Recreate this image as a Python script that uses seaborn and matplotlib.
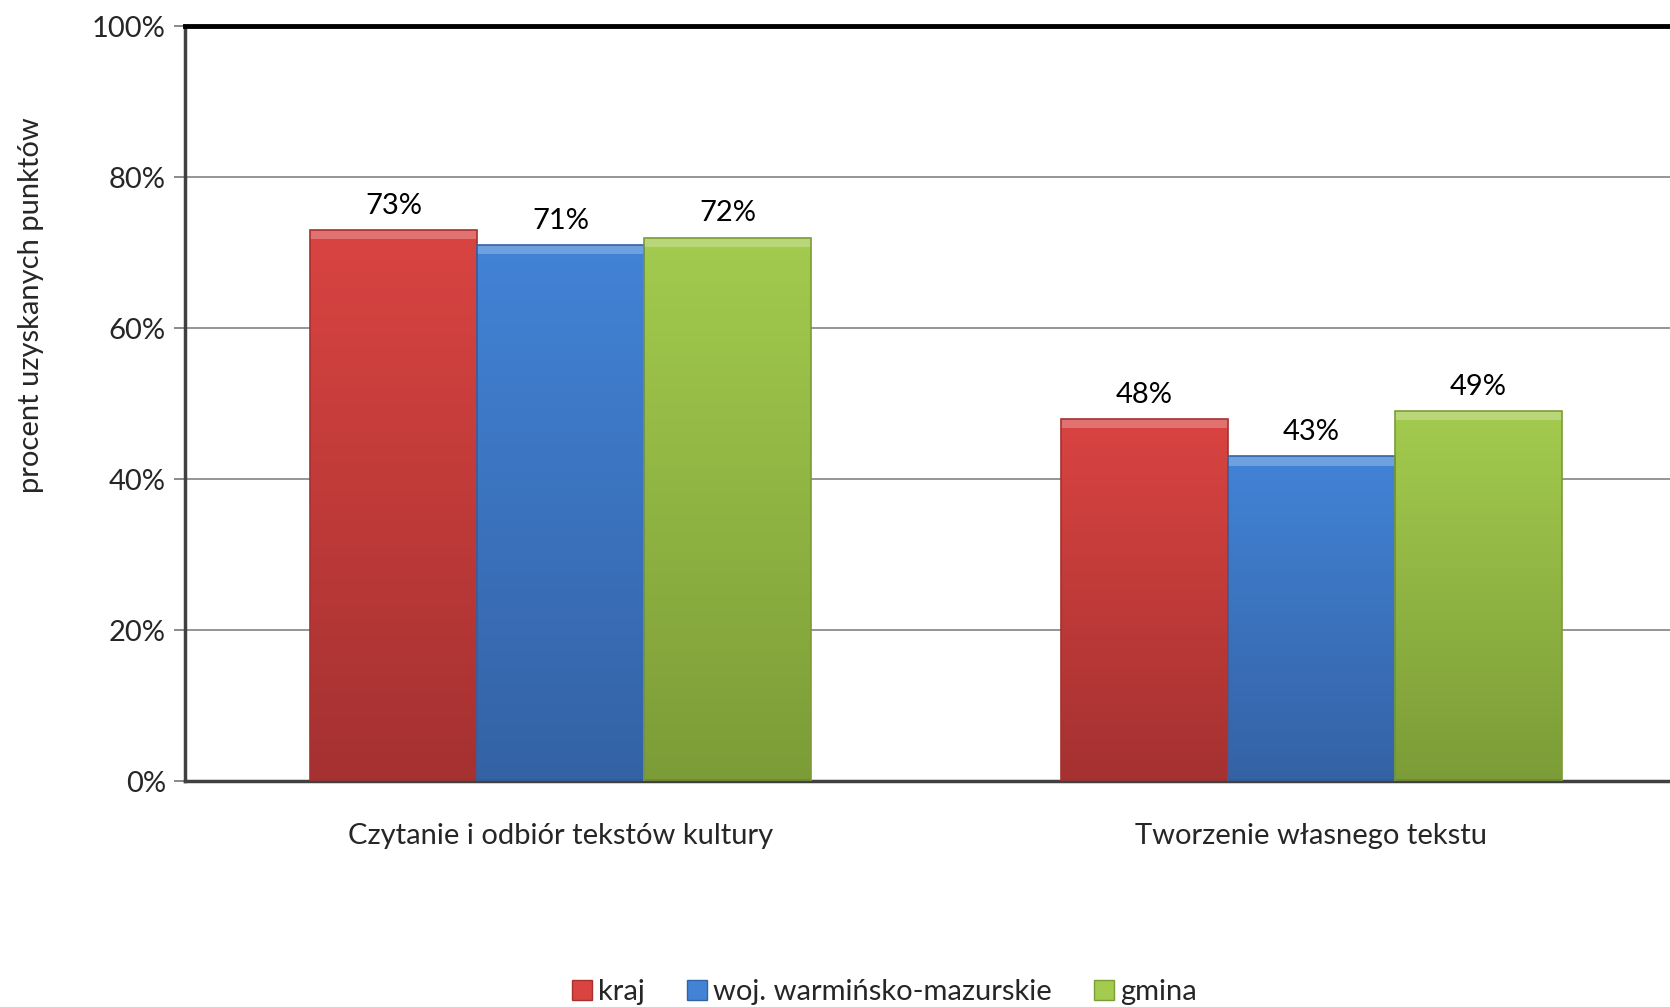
import pandas as pd
import seaborn as sns
import matplotlib.pyplot as plt
import numpy as np
from matplotlib.colors import LinearSegmentedColormap
from matplotlib.lines import Line2D


# Dane z wykresu
kategorie = ['Czytanie i odbiór tekstów kultury', 'Tworzenie własnego tekstu']
serie = ['kraj', 'woj. warmińsko-mazurskie', 'gmina']
kraj = [73, 48]
woj = [71, 43]
gmina = [72, 49]
y_ticks = [0, 20, 40, 60, 80, 100]

kolory = ['#D94441', '#4283D6', '#A3CB4E']
kolory_dol = ['#A53131', '#3462A5', '#7C9C37']

df = pd.DataFrame({
    'kategoria': kategorie * 3,
    'seria': [s for s in serie for _ in kategorie],
    'wartosc': kraj + woj + gmina,
})

sns.set_theme(style='white')
plt.rcParams['font.family'] = ['Lato', 'DejaVu Sans']
FS = 21

fig = plt.figure(figsize=(16.7, 10.07), dpi=100)
ax = fig.add_axes([0.111, 0.2244, 0.899, 0.7496])

sns.barplot(data=df, x='kategoria', y='wartosc', hue='seria',
            hue_order=serie, palette=kolory, width=0.667, ax=ax,
            legend=False, saturation=1, edgecolor='none')

# Gradient na slupkach
for cont, c1, c2 in zip(ax.containers, kolory, kolory_dol):
    cmap = LinearSegmentedColormap.from_list('g', [c2, c1])
    for p in cont:
        x0, y0 = p.get_x(), p.get_y()
        w, h = p.get_width(), p.get_height()
        grad = np.linspace(0, 1, 256).reshape(-1, 1)
        im = ax.imshow(grad, cmap=cmap, origin='lower', aspect='auto',
                       extent=[x0, x0 + w, y0, y0 + h], zorder=2)
        im.set_clip_path(p)
        ax.add_patch(plt.Rectangle((x0, y0 + h - 1.2), w, 1.2,
                                   color='white', alpha=0.25, lw=0, zorder=3))
        ax.add_patch(plt.Rectangle((x0, y0), w, h, fill=False,
                                   edgecolor=c2, lw=1.2, zorder=3))
    ax.bar_label(cont, labels=[f'{v:.0f}%' for v in cont.datavalues],
                 padding=8, fontsize=FS, color='black')

ax.set_xlim(-0.5, 1.5)
ax.set_ylim(0, 100)
ax.set_yticks(y_ticks)
ax.set_yticklabels([f'{t}%' for t in y_ticks], fontsize=FS)
ax.yaxis.grid(True, color='#8c8c8c', lw=1.3)
ax.set_axisbelow(True)

ax.set_xticks([0, 1])
ax.set_xticklabels(kategorie, fontsize=FS)
ax.set_xticks([-0.5, 0.5, 1.5], minor=True)
ax.tick_params(axis='x', which='major', length=0, pad=30)
ax.tick_params(axis='x', which='minor', length=8, color='#808080', width=1.3, direction='out')
ax.tick_params(axis='y', length=8, color='#808080', width=1.3, direction='out', left=True, pad=6)

ax.set_xlabel('')
ax.set_ylabel('procent uzyskanych punktów', fontsize=FS)
ax.yaxis.set_label_coords(-0.094, 0.631)

for s in ['left', 'bottom']:
    ax.spines[s].set_color('#404040')
    ax.spines[s].set_linewidth(2.5)
ax.spines['top'].set_color('black')
ax.spines['top'].set_linewidth(3.5)
ax.spines['right'].set_visible(False)

uchwyty = [Line2D([], [], marker='s', color='none', markerfacecolor=c,
                  markeredgecolor=d, markersize=14, linestyle='')
           for c, d in zip(kolory, kolory_dol)]
fig.legend(uchwyty, serie, loc='center', bbox_to_anchor=(0.529, 0.015),
           ncol=3, frameon=False, fontsize=FS, handletextpad=0.15,
           handlelength=0.8, columnspacing=1.4)

plt.savefig('out.png', dpi=100)
